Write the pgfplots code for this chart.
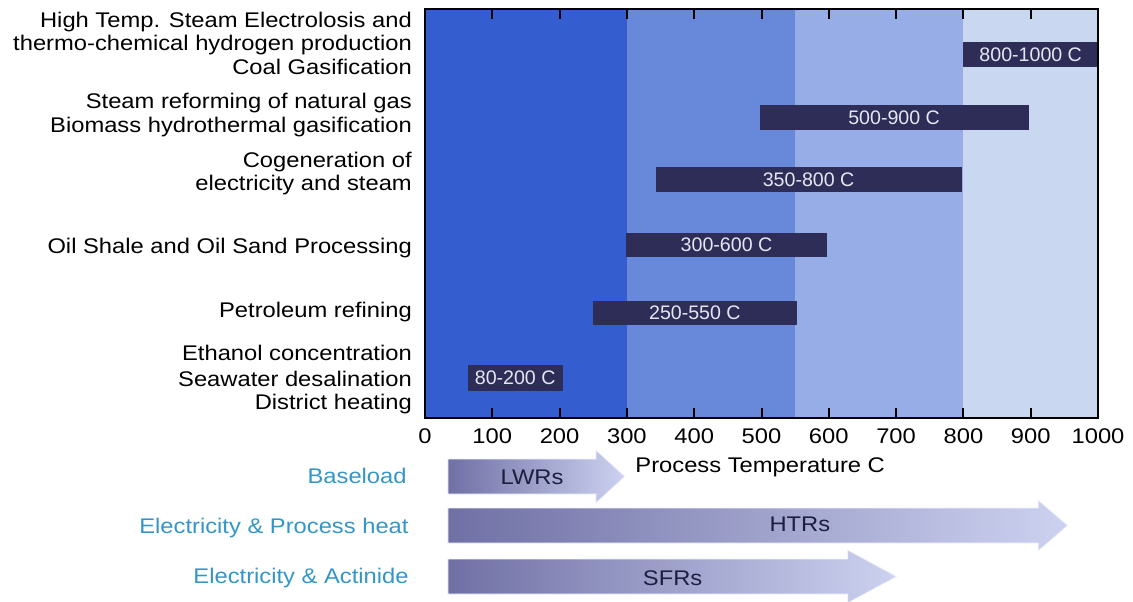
\documentclass[border=0pt]{standalone}
\usepackage{fontspec}
\setmainfont[FakeStretch=1.12]{Liberation Sans}
\newfontfamily\plainsans{Liberation Sans}
\usepackage{pgfplots}
\pgfplotsset{compat=1.18}

\definecolor{bandA}{RGB}{52,93,207}
\definecolor{bandB}{RGB}{104,137,218}
\definecolor{bandC}{RGB}{151,173,231}
\definecolor{bandD}{RGB}{201,215,241}
\definecolor{barNavy}{RGB}{45,45,88}
\definecolor{barText}{RGB}{230,230,240}
\definecolor{arrowDark}{RGB}{112,112,165}
\definecolor{arrowLight}{RGB}{205,210,240}
\definecolor{arrowText}{RGB}{30,30,65}
\definecolor{useCyan}{RGB}{52,150,200}

\begin{document}
\begin{tikzpicture}[font=\fontsize{10.6}{12.7}\selectfont]
\begin{axis}[
    x=0.3365pt, y=0.5pt,
    xmin=0, xmax=1000, ymin=0, ymax=409,
    axis on top,
    clip=false,
    no markers,
    xtick={0,100,...,1000},
    ytick=\empty,
    xtick pos=both,
    tick align=inside,
    major tick length=5pt,
    every tick/.style={black, line width=1pt},
    axis line style={line width=1pt},
    xticklabel style={yshift=-2pt},
    /pgf/number format/assume math mode=true,
    /pgf/number format/1000 sep={},
]
% temperature bands
\addplot[draw=none, fill=bandA] coordinates {(0,0) (300,0) (300,409) (0,409)};
\addplot[draw=none, fill=bandB] coordinates {(300,0) (550,0) (550,409) (300,409)};
\addplot[draw=none, fill=bandC] coordinates {(550,0) (800,0) (800,409) (550,409)};
\addplot[draw=none, fill=bandD] coordinates {(800,0) (1000,0) (1000,409) (800,409)};

% process temperature ranges
\addplot[draw=none, fill=barNavy] coordinates {(800,351) (1000,351) (1000,376) (800,376)};
\addplot[draw=none, fill=barNavy] coordinates {(498,288) (897,288) (897,313) (498,313)};
\addplot[draw=none, fill=barNavy] coordinates {(343,226) (798,226) (798,251) (343,251)};
\addplot[draw=none, fill=barNavy] coordinates {(299,161) (597,161) (597,185) (299,185)};
\addplot[draw=none, fill=barNavy] coordinates {(250,93) (553,93) (553,117) (250,117)};
\addplot[draw=none, fill=barNavy] coordinates {(64,27) (205,27) (205,53) (64,53)};

\begin{scope}[every node/.style={text=barText, font=\plainsans\fontsize{9.8}{11}\selectfont, inner sep=0pt}]
\node at (axis cs:900,363.5) {800-1000 C};
\node at (axis cs:697,300.5) {500-900 C};
\node at (axis cs:570,238.5) {350-800 C};
\node at (axis cs:448,173) {300-600 C};
\node at (axis cs:401,105) {250-550 C};
\node at (axis cs:134,40) {80-200 C};
\end{scope}

% application labels
\begin{scope}[every node/.style={anchor=base east, inner sep=0pt}]
\node at (axis cs:-19,391) {High Temp. Steam Electrolosis and};
\node at (axis cs:-19,368) {thermo-chemical hydrogen production};
\node at (axis cs:-19,344) {Coal Gasification};
\node at (axis cs:-19,310) {Steam reforming of natural gas};
\node at (axis cs:-19,286) {Biomass hydrothermal gasification};
\node at (axis cs:-19,251) {Cogeneration of};
\node at (axis cs:-19,228) {electricity and steam};
\node at (axis cs:-19,165) {Oil Shale and Oil Sand Processing};
\node at (axis cs:-19,101) {Petroleum refining};
\node at (axis cs:-19,58) {Ethanol concentration};
\node at (axis cs:-19,32) {Seawater desalination};
\node at (axis cs:-19,9) {District heating};
\end{scope}

\node[anchor=base, inner sep=0pt] at (axis cs:498,-54) {Process Temperature C};

% reactor arrows
\shade[left color=arrowDark, right color=arrowLight, draw=white!75!arrowLight, line width=0.4pt]
  (axis cs:34,-41) -- (axis cs:254,-41) -- (axis cs:254,-32) -- (axis cs:297,-58.5)
  -- (axis cs:254,-85) -- (axis cs:254,-76) -- (axis cs:34,-76) -- cycle;
\shade[left color=arrowDark, right color=arrowLight, draw=white!75!arrowLight, line width=0.4pt]
  (axis cs:34,-90) -- (911,-90) -- (axis cs:911,-90) -- (axis cs:911,-82) -- (axis cs:955,-107.5)
  -- (axis cs:911,-133) -- (axis cs:911,-125) -- (axis cs:34,-125) -- cycle;
\shade[left color=arrowDark, right color=arrowLight, draw=white!75!arrowLight, line width=0.4pt]
  (axis cs:34,-141) -- (axis cs:628,-141) -- (axis cs:628,-132) -- (axis cs:701,-158.5)
  -- (axis cs:628,-185) -- (axis cs:628,-176) -- (axis cs:34,-176) -- cycle;

\begin{scope}[every node/.style={anchor=base, inner sep=0pt, text=arrowText}]
\node at (axis cs:159,-66) {LWRs};
\node at (axis cs:557,-113) {HTRs};
\node at (axis cs:368,-167) {SFRs};
\end{scope}

\begin{scope}[every node/.style={anchor=base east, inner sep=0pt, text=useCyan}]
\node at (axis cs:-26.7,-65) {Baseload};
\node at (axis cs:-23.8,-115) {Electricity \& Process heat};
\node at (axis cs:-23.8,-165) {Electricity \& Actinide};
\end{scope}

\coordinate (bbsw) at (axis cs:-631.5,-183);
\coordinate (bbne) at (axis cs:1052,418);
\end{axis}
\pgfresetboundingbox
\path[use as bounding box] (bbsw) rectangle (bbne);
\end{tikzpicture}
\end{document}
